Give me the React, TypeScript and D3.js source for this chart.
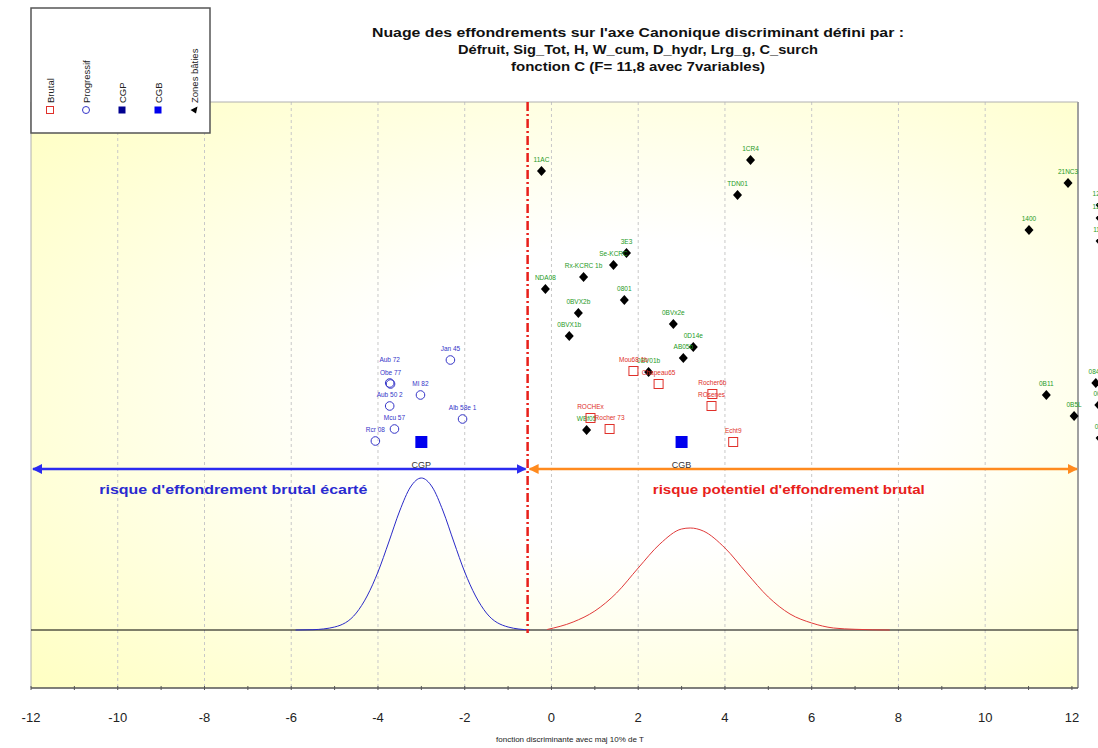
import React from 'react';
import * as d3 from 'd3';

const W = 1098;
const H = 748;

const xTickValues = [-12, -10, -8, -6, -4, -2, 0, 2, 4, 6, 8, 10, 12];
const xGridValues = [-10, -8, -6, -4, -2, 0, 2, 4, 6, 8, 10];

const titleLines = [
  "Nuage des effondrements sur l'axe Canonique discriminant défini par :",
  'Défruit, Sig_Tot, H, W_cum, D_hydr, Lrg_g, C_surch',
  'fonction C (F= 11,8 avec 7variables)',
];
const xAxisTitle = 'fonction discriminante avec maj 10% de T';

const legendItems = ['Brutal', 'Progressif', 'CGP', 'CGB', 'Zones bâties'];

const brutal = [
  { name: 'Mou68 1b', x: 1.89, y: 2.59 },
  { name: 'Chapeau65', x: 2.47, y: 2.46 },
  { name: 'Rocher6b', x: 3.71, y: 2.36 },
  { name: 'ROsenes', x: 3.69, y: 2.24 },
  { name: 'ROCHEx', x: 0.9, y: 2.12 },
  { name: 'Rocher 73', x: 1.34, y: 2.01 },
  { name: 'Echt9', x: 4.19, y: 1.88 },
];

const progressif = [
  { name: 'Jan 45', x: -2.33, y: 2.7 },
  { name: 'Obe 77', x: -3.71, y: 2.46 },
  { name: 'Aub 72', x: -3.73, y: 2.47 },
  { name: 'MI 82', x: -3.02, y: 2.35 },
  { name: 'Aub 50 2', x: -3.73, y: 2.24 },
  { name: 'Alb 58e 1', x: -2.05, y: 2.11 },
  { name: 'Mcu 57', x: -3.62, y: 2.01 },
  { name: 'Rcr 08', x: -4.06, y: 1.89 },
];

const zones = [
  { name: '11AC', x: -0.23, y: 4.59 },
  { name: '1CR4', x: 4.59, y: 4.7 },
  { name: 'TDN01', x: 4.29, y: 4.35 },
  { name: '21NC3', x: 11.91, y: 4.47 },
  { name: '1400', x: 11.01, y: 4.0 },
  { name: '12B1', x: 12.65, y: 4.25 },
  { name: '12B2', x: 12.65, y: 4.12 },
  { name: '1125', x: 12.65, y: 3.89 },
  { name: '3E3', x: 1.73, y: 3.77 },
  { name: 'Se-KCRC', x: 1.43, y: 3.65 },
  { name: 'Rx-KCRC 1b', x: 0.74, y: 3.53 },
  { name: 'NDA08', x: -0.14, y: 3.41 },
  { name: '0801', x: 1.68, y: 3.3 },
  { name: '0BVX2b', x: 0.62, y: 3.17 },
  { name: '0BVx2e', x: 2.81, y: 3.06 },
  { name: '0BVX1b', x: 0.41, y: 2.94 },
  { name: '0D14e', x: 3.27, y: 2.83 },
  { name: 'AB05b', x: 3.04, y: 2.72 },
  { name: '0BV01b', x: 2.24, y: 2.58 },
  { name: 'WBf05', x: 0.81, y: 2.0 },
  { name: '0B11', x: 11.41, y: 2.35 },
  { name: '0841', x: 12.55, y: 2.47 },
  { name: '0B5L', x: 12.05, y: 2.14 },
  { name: '008', x: 12.62, y: 2.25 },
  { name: '061', x: 12.65, y: 1.92 },
];

const centroids = [
  { name: 'CGP', x: -3.0, y: 1.88 },
  { name: 'CGB', x: 3.0, y: 1.88 },
];

const thresholdX = -0.55;
const arrowY = 1.61;
const baselineY = 0;

const progCurveX = [-5.9, -5.5, -5.0, -4.5, -4.25, -4.0, -3.75, -3.5, -3.25, -3.0, -2.75, -2.5, -2.25, -2.0, -1.75, -1.5, -1.0, -0.5];
const progCurveY = [0, 0.003, 0.03, 0.17, 0.34, 0.58, 0.88, 1.19, 1.43, 1.52, 1.43, 1.19, 0.88, 0.58, 0.34, 0.17, 0.03, 0];

const brutCurveX = [-0.1, 0.5, 1.0, 1.5, 2.0, 2.5, 3.0, 3.2, 3.5, 4.0, 4.5, 5.0, 5.5, 6.0, 6.5, 7.0, 7.8];
const brutCurveY = [0.005, 0.08, 0.19, 0.37, 0.62, 0.86, 1.01, 1.02, 0.99, 0.82, 0.57, 0.33, 0.16, 0.07, 0.02, 0.007, 0];

const FONT = "'Liberation Sans', Arial, sans-serif";

export default function App() {
  const x = d3.scaleLinear().domain([-12, 12.14]).range([31, 1078]);
  const y = d3.scaleLinear().domain([-0.58, 5.28]).range([688, 102]);
  const left = x(-12);
  const right = x(12.14);
  const top = y(5.28);
  const bottom = y(-0.58);

  const line = d3
    .line<[number, number]>()
    .x((d) => x(d[0]))
    .y((d) => y(d[1]))
    .curve(d3.curveMonotoneX);

  const progPath = line(progCurveX.map((v, i) => [v, progCurveY[i]]) as [number, number][]) || '';
  const brutPath = line(brutCurveX.map((v, i) => [v, brutCurveY[i]]) as [number, number][]) || '';

  const minorTicks = d3.range(-12, 13, 1);

  const progLabels: { x: number; y: number; name: string }[] = [];
  progressif.forEach((p) => {
    const lx = x(p.x);
    let ly = y(p.y) - 9;
    let moved = true;
    while (moved) {
      moved = false;
      for (const o of progLabels) {
        if (Math.abs(o.x - lx) < 18 && Math.abs(o.y - ly) < 9) {
          ly = o.y - 13;
          moved = true;
        }
      }
    }
    progLabels.push({ x: lx, y: ly, name: p.name });
  });

  const diamond = 'M0,-5L4.5,0L0,5L-4.5,0Z';
  const tx = x(thresholdX);
  const ay = y(arrowY);

  return (
    <svg width={W} height={H} style={{ position: 'absolute', left: 0, top: 0, background: '#fff' }} fontFamily={FONT}>
      <defs>
        <radialGradient id="bg" cx="0.58" cy="0.5" r="0.75" fx="0.58" fy="0.5">
          <stop offset="0" stopColor="#ffffff" />
          <stop offset="0.35" stopColor="#ffffff" />
          <stop offset="1" stopColor="#ffffc4" />
        </radialGradient>
        <marker id="ahBlue" viewBox="0 0 10 10" refX="9" refY="5" markerWidth="4" markerHeight="4" orient="auto-start-reverse">
          <path d="M0,0L10,5L0,10Z" fill="#2b2bf0" />
        </marker>
        <marker id="ahOrange" viewBox="0 0 10 10" refX="9" refY="5" markerWidth="4" markerHeight="4" orient="auto-start-reverse">
          <path d="M0,0L10,5L0,10Z" fill="#ff8a1e" />
        </marker>
      </defs>
      <rect x={0} y={0} width={W} height={H} fill="#fff" />
      <rect x={left} y={top} width={right - left} height={bottom - top} fill="url(#bg)" />
      {xGridValues.map((v) => (
        <line key={v} x1={x(v)} x2={x(v)} y1={top} y2={bottom} stroke="#c8c8c8" strokeWidth={1} strokeDasharray="3,3" />
      ))}
      <line x1={left} x2={right} y1={top} y2={top} stroke="#b0b0b0" strokeWidth={1} />
      <line x1={left} x2={left} y1={top} y2={bottom} stroke="#b0b0b0" strokeWidth={1} />
      <line x1={right} x2={right} y1={top} y2={bottom} stroke="#a0a0a0" strokeWidth={2} />

      <line x1={left} x2={right} y1={y(baselineY)} y2={y(baselineY)} stroke="#000" strokeWidth={1} />

      <path d={progPath} fill="none" stroke="#2a2ac8" strokeWidth={1} />
      <path d={brutPath} fill="none" stroke="#e03a3a" strokeWidth={1} />

      <line x1={tx} x2={tx} y1={top} y2={y(baselineY) + 3} stroke="#e8201a" strokeWidth={2.5} strokeDasharray="9,3,2,3" />

      <line x1={left + 2} x2={tx - 2} y1={ay} y2={ay} stroke="#2b2bf0" strokeWidth={2.5} markerStart="url(#ahBlue)" markerEnd="url(#ahBlue)" />
      <line x1={tx + 2} x2={right - 1} y1={ay} y2={ay} stroke="#ff8a1e" strokeWidth={2.5} markerStart="url(#ahOrange)" markerEnd="url(#ahOrange)" />
      <text x={(left + tx) / 2 - 46} y={ay + 25} textAnchor="middle" fontSize={13} fontWeight="bold" fill="#2a2ad0" textLength={268} lengthAdjust="spacingAndGlyphs">
        risque d'effondrement brutal écarté
      </text>
      <text x={(tx + right) / 2 - 14} y={ay + 25} textAnchor="middle" fontSize={13} fontWeight="bold" fill="#e8201a" textLength={272} lengthAdjust="spacingAndGlyphs">
        risque potentiel d'effondrement brutal
      </text>

      {zones.map((p) => (
        <g key={p.name}>
          <path d={diamond} transform={`translate(${x(p.x)},${y(p.y)})`} fill="#000" />
          <text x={x(p.x)} y={y(p.y) - 9} textAnchor="middle" fontSize={6.5} fill="#1e9a1e">
            {p.name}
          </text>
        </g>
      ))}

      {brutal.map((p) => (
        <g key={p.name}>
          <rect x={x(p.x) - 4.5} y={y(p.y) - 4.5} width={9} height={9} fill="none" stroke="#e0302a" strokeWidth={1} />
          <text x={x(p.x)} y={y(p.y) - 9} textAnchor="middle" fontSize={6.5} fill="#e0302a">
            {p.name}
          </text>
        </g>
      ))}

      {progressif.map((p) => (
        <circle key={p.name} cx={x(p.x)} cy={y(p.y)} r={4.3} fill="none" stroke="#3535c8" strokeWidth={1} />
      ))}
      {progLabels.map((l) => (
        <text key={l.name} x={l.x} y={l.y} textAnchor="middle" fontSize={6.5} fill="#3535c8">
          {l.name}
        </text>
      ))}

      {centroids.map((c) => (
        <g key={c.name}>
          <rect x={x(c.x) - 6} y={y(c.y) - 6} width={12} height={12} fill="#0000ee" />
          <text x={x(c.x)} y={ay - 1} textAnchor="middle" fontSize={9} fill="#333">
            {c.name}
          </text>
        </g>
      ))}

      <line x1={left} x2={right} y1={bottom} y2={bottom} stroke="#555" strokeWidth={1.5} />
      {minorTicks.map((v) => (
        <line key={v} x1={x(v)} x2={x(v)} y1={bottom - 2} y2={bottom + 2} stroke="#555" strokeWidth={1} />
      ))}
      {xTickValues.map((v) => (
        <text key={v} x={x(v)} y={722} textAnchor="middle" fontSize={13} fill="#222">
          {v}
        </text>
      ))}
      <text x={570} y={742} textAnchor="middle" fontSize={8} fill="#222">
        {xAxisTitle}
      </text>

      {titleLines.map((t, i) => (
        <text key={i} x={638} y={37 + i * 17} textAnchor="middle" fontSize={12} fontWeight="bold" fill="#111" textLength={[532, 360, 254][i]} lengthAdjust="spacingAndGlyphs">
          {t}
        </text>
      ))}

      <rect x={31} y={8} width={179} height={125} fill="#fff" stroke="#555" strokeWidth={1.5} />
      {legendItems.map((name, i) => {
        const lx = 50 + i * 36;
        const sy = 110;
        let sym: React.ReactNode = null;
        if (i === 0) sym = <rect x={lx - 3.5} y={sy - 3.5} width={7} height={7} fill="none" stroke="#e0302a" />;
        else if (i === 1) sym = <circle cx={lx} cy={sy} r={3.5} fill="none" stroke="#3535c8" />;
        else if (i === 2) sym = <rect x={lx - 3.5} y={sy - 3.5} width={7} height={7} fill="#000090" />;
        else if (i === 3) sym = <rect x={lx - 3.5} y={sy - 3.5} width={7} height={7} fill="#0000ee" />;
        else sym = <path d="M-3.5,0L3.5,-3.5L2,3.5Z" transform={`translate(${lx},${sy})`} fill="#000" />;
        return (
          <g key={name}>
            {sym}
            <text transform={`translate(${lx + 3.5},${sy - 7}) rotate(-90)`} fontSize={9.5} fill="#222">
              {name}
            </text>
          </g>
        );
      })}
    </svg>
  );
}
